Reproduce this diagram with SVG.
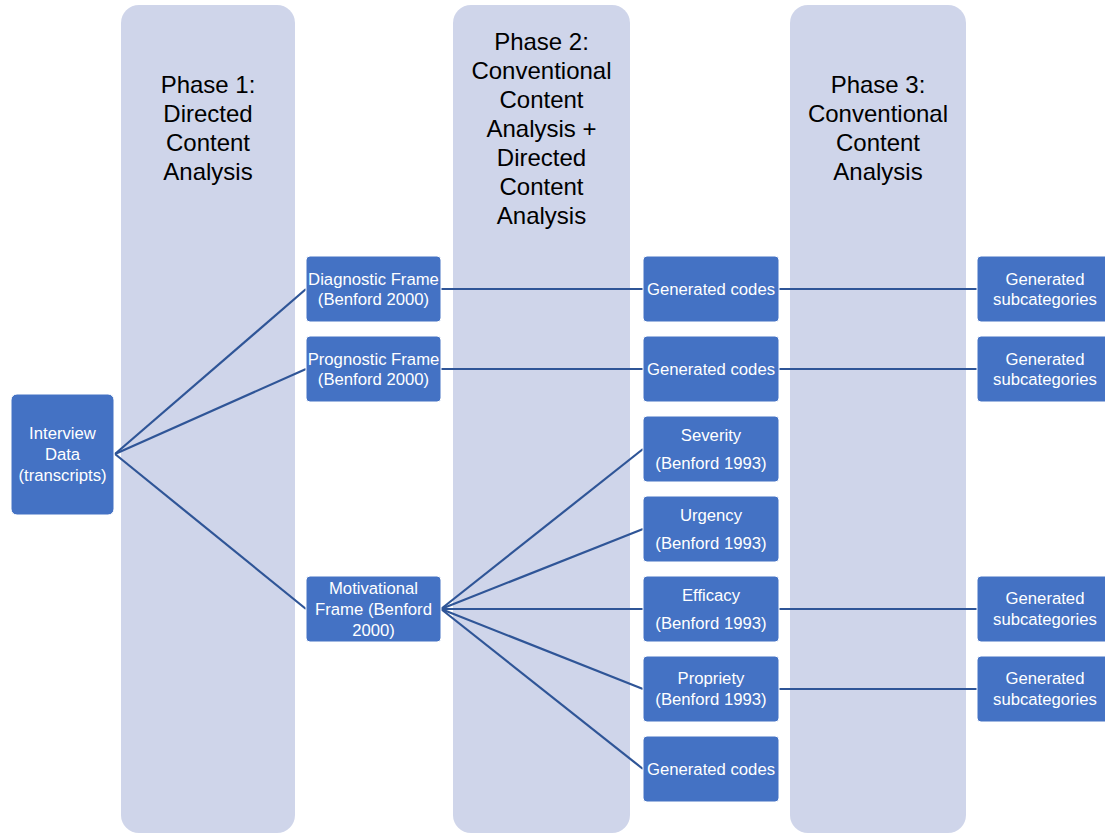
<svg xmlns="http://www.w3.org/2000/svg" width="1105" height="834" viewBox="0 0 1105 834">
<style>
.col{fill:#CFD5EA}
.node{fill:#4472C4;stroke:#ffffff;stroke-width:1}
.ph{font-family:"Liberation Sans",Arial,sans-serif;font-size:24px;fill:#000;text-anchor:middle}
.t{font-family:"Liberation Sans",Arial,sans-serif;font-size:16.7px;fill:#fff;text-anchor:middle}
.c{stroke:#2F5597;stroke-width:2.2;fill:none}
</style>
<rect width="1105" height="834" fill="#fff"/>
<g id="phase1"><rect class="col" x="121" y="5" width="174" height="828" rx="18"/>
<text class="ph" x="208" y="93">Phase 1:</text><text class="ph" x="208" y="122">Directed</text><text class="ph" x="208" y="151">Content</text><text class="ph" x="208" y="180">Analysis</text></g>
<g id="phase2"><rect class="col" x="453" y="5" width="177" height="828" rx="18"/>
<text class="ph" x="541.5" y="50">Phase 2:</text><text class="ph" x="541.5" y="79">Conventional</text><text class="ph" x="541.5" y="108">Content</text><text class="ph" x="541.5" y="137">Analysis +</text><text class="ph" x="541.5" y="166">Directed</text><text class="ph" x="541.5" y="195">Content</text><text class="ph" x="541.5" y="224">Analysis</text></g>
<g id="phase3"><rect class="col" x="790" y="5" width="176" height="828" rx="18"/>
<text class="ph" x="878" y="93">Phase 3:</text><text class="ph" x="878" y="122">Conventional</text><text class="ph" x="878" y="151">Content</text><text class="ph" x="878" y="180">Analysis</text></g>
<g id="connectors">
<line class="c" x1="115" y1="454" x2="306" y2="289"/>
<line class="c" x1="115" y1="454" x2="306" y2="369"/>
<line class="c" x1="115" y1="454" x2="306" y2="609"/>
<line class="c" x1="441" y1="289" x2="643" y2="289"/>
<line class="c" x1="441" y1="369" x2="643" y2="369"/>
<line class="c" x1="441" y1="609" x2="643" y2="449"/>
<line class="c" x1="441" y1="609" x2="643" y2="529"/>
<line class="c" x1="441" y1="609" x2="643" y2="609"/>
<line class="c" x1="441" y1="609" x2="643" y2="689"/>
<line class="c" x1="441" y1="609" x2="643" y2="769"/>
<line class="c" x1="779" y1="289" x2="977" y2="289"/>
<line class="c" x1="779" y1="369" x2="977" y2="369"/>
<line class="c" x1="779" y1="609" x2="977" y2="609"/>
<line class="c" x1="779" y1="689" x2="977" y2="689"/>
</g>
<g id="interview"><rect class="node" x="11" y="394" width="103" height="121" rx="6"/>
<text class="t" x="62.5" y="439">Interview</text><text class="t" x="62.5" y="460">Data</text><text class="t" x="62.5" y="481">(transcripts)</text></g>
<g id="diagnostic"><rect class="node" x="306" y="256" width="135" height="66" rx="4"/>
<text class="t" x="373.5" y="285">Diagnostic Frame</text><text class="t" x="373.5" y="305">(Benford 2000)</text></g>
<g id="prognostic"><rect class="node" x="306" y="336" width="135" height="66" rx="4"/>
<text class="t" x="373.5" y="365">Prognostic Frame</text><text class="t" x="373.5" y="385">(Benford 2000)</text></g>
<g id="motivational"><rect class="node" x="306" y="576" width="135" height="66" rx="4"/>
<text class="t" x="373.5" y="594">Motivational</text><text class="t" x="373.5" y="615">Frame (Benford</text><text class="t" x="373.5" y="636">2000)</text></g>
<g id="codes1"><rect class="node" x="643" y="256" width="136" height="66" rx="4"/>
<text class="t" x="711" y="295">Generated codes</text></g>
<g id="codes2"><rect class="node" x="643" y="336" width="136" height="66" rx="4"/>
<text class="t" x="711" y="375">Generated codes</text></g>
<g id="severity"><rect class="node" x="643" y="416" width="136" height="66" rx="4"/>
<text class="t" x="711" y="441">Severity</text><text class="t" x="711" y="469">(Benford 1993)</text></g>
<g id="urgency"><rect class="node" x="643" y="496" width="136" height="66" rx="4"/>
<text class="t" x="711" y="521">Urgency</text><text class="t" x="711" y="549">(Benford 1993)</text></g>
<g id="efficacy"><rect class="node" x="643" y="576" width="136" height="66" rx="4"/>
<text class="t" x="711" y="601">Efficacy</text><text class="t" x="711" y="629">(Benford 1993)</text></g>
<g id="propriety"><rect class="node" x="643" y="656" width="136" height="66" rx="4"/>
<text class="t" x="711" y="684">Propriety</text><text class="t" x="711" y="705">(Benford 1993)</text></g>
<g id="codes3"><rect class="node" x="643" y="736" width="136" height="66" rx="4"/>
<text class="t" x="711" y="775">Generated codes</text></g>
<g id="sub1"><rect class="node" x="977" y="256" width="136" height="66" rx="4"/>
<text class="t" x="1045" y="285">Generated</text><text class="t" x="1045" y="305">subcategories</text></g>
<g id="sub2"><rect class="node" x="977" y="336" width="136" height="66" rx="4"/>
<text class="t" x="1045" y="365">Generated</text><text class="t" x="1045" y="385">subcategories</text></g>
<g id="sub3"><rect class="node" x="977" y="576" width="136" height="66" rx="4"/>
<text class="t" x="1045" y="604">Generated</text><text class="t" x="1045" y="625">subcategories</text></g>
<g id="sub4"><rect class="node" x="977" y="656" width="136" height="66" rx="4"/>
<text class="t" x="1045" y="684">Generated</text><text class="t" x="1045" y="705">subcategories</text></g>
</svg>
